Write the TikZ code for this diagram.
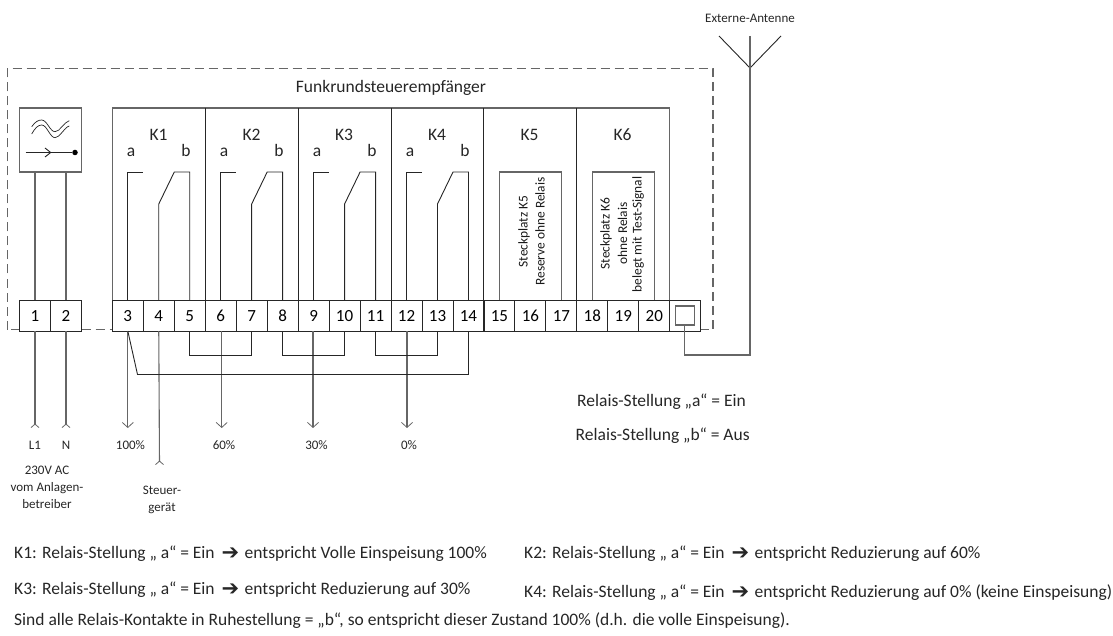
\documentclass[tikz,border=0pt]{standalone}
\usepackage{fontspec}
\setmainfont{Carlito}
\newfontfamily\symfont{DejaVu Sans}
\usetikzlibrary{arrows.meta}
\tikzset{
  line/.style={line width=1.1pt,draw=black!60,line join=miter},
  thin line/.style={line width=0.9pt,draw=black!85},
  cell/.style={draw=black!85,line width=0.9pt,minimum width=31pt,minimum height=31pt,inner sep=0pt,outer sep=0pt,text height=11pt,text depth=0pt,font=\fontsize{17}{17}\selectfont},
  lab/.style={inner sep=0pt,font=\fontsize{17.5}{20}\selectfont,text=black!85},
  small/.style={inner sep=0pt,align=center,font=\fontsize{13}{17}\selectfont,text=black!85},
  vtext/.style={inner sep=0pt,rotate=90,font=\fontsize{13.4}{15}\selectfont,text=black!90},
  foot/.style={inner sep=0pt,anchor=base west,font=\fontsize{17.5}{20}\selectfont,text=black!85},
  tipdown/.style={-{Straight Barb[length=5pt,width=11pt,line width=0.8pt]}},
  tipup/.style={-{Straight Barb[reversed,length=3.5pt,width=8pt,line width=0.8pt]}}
}
\newcommand{\bigarrow}{\hspace{3pt}{\symfont\fontsize{21}{15}\selectfont\raisebox{-1.5pt}{➔}}\hspace{1.5pt}}
\begin{document}
\begin{tikzpicture}[x=1pt,y=-1pt]
\useasboundingbox (0,0) rectangle (1113,636);
% dashed housing
\draw[line,dash pattern=on 9pt off 5pt] (7.5,329.5) -- (7.5,68.5) -- (713,68.5) -- (713,329.5) -- (700,329.5);
\draw[line,dash pattern=on 9pt off 5pt] (19.5,329.5) -- (7.5,329.5);
\draw[line,dash pattern=on 9pt off 5pt] (81.5,329.5) -- (112.3,329.5);
\node[lab] (title) at (391,88) {Funkrundsteuerempfänger};
% power supply
\node[draw=black!60,line width=1.1pt,minimum width=62pt,minimum height=64pt,inner sep=0pt,outer sep=0pt,anchor=north west] (psu) at (19.5,108) {};
\draw[thin line,line width=0.7pt] (31.7,126.7) .. controls (35,122) and (38,120) .. (41.7,120) .. controls (47,120) and (50,131.7) .. (55,131.7) .. controls (60,131.7) and (64,122) .. (69.3,120.7);
\draw[thin line,line width=0.7pt] (31.7,134) .. controls (35,128) and (38,125) .. (41.7,125) .. controls (47,125) and (50,137.7) .. (55,137.7) .. controls (60,137.7) and (64,127.5) .. (69.3,126);
\coordinate (ps1) at (25.5,152.5);
\node[circle,fill=black,minimum size=5.5pt,inner sep=0pt] (psdot) at (75,152.5) {};
\draw[thin line] (ps1) -- (psdot);
\draw[thin line] (45,148) -- (50.7,152.5) -- (45,157);
% terminals
\foreach \n/\x in {1/35,2/66} \node[cell] (t\n) at (\x,315.5) {\n};
\foreach \n in {3,...,20} {
  \pgfmathsetmacro{\xx}{127.8+(\n-3)*30.97}
  \node[cell] (t\n) at (\xx,315.5) {\n};
}
\node[cell] (t21) at (685,315.5) {};
\node[draw=black!60,line width=1.1pt,minimum size=19pt,inner sep=0pt,outer sep=0pt] (ant) at (684.8,315.5) {};
% slot frame
\draw[line] (112.3,300) -- (112.3,108) -- (669.5,108) -- (669.5,300);
\foreach \x in {205.3,298,391,483.7,576.7} \draw[thin line] (\x,108) -- (\x,300);
% slot labels
\foreach \k/\x in {1/158.5,2/251.5,3/344,4/437,5/529.5,6/622.5} \node[lab,anchor=base] (k\k) at (\x,140.5) {K\k};
\foreach \k/\d in {1/0,2/93,3/186,4/279} {
  \node[lab,anchor=base] (a\k) at (131+\d,156.5) {a};
  \node[lab,anchor=base] (b\k) at (186+\d,156.5) {b};
}
% relay contacts
\foreach \s/\p/\q/\r in {1/3/4/5,2/6/7/8,3/9/10/11,4/12/13/14} {
  \path (t\p.north) ++(0,-128) coordinate (up\s);
  \draw[thin line] (t\p.north) -- (up\s) -- ++(15,0);
  \draw[thin line] (t\q.north) -- ++(0,-96) -- ++(15.5,-32) -- ++(15.5,0) -- (t\r.north);
}
% empty slots
\draw[line] (t15.north) -- ++(0,-128) -- ++(62.5,0) -- ++(0,128);
\draw[line] (t18.north) -- ++(0,-128) -- ++(62.5,0) -- ++(0,128);
\node[vtext] (v51) at (524,231.5) {Steckplatz K5};
\node[vtext] (v52) at (540,231.5) {Reserve ohne Relais};
\node[vtext] (v61) at (606,233.5) {Steckplatz K6};
\node[vtext] (v62) at (622.5,233.5) {ohne Relais};
\node[vtext] (v63) at (638,234.5) {belegt mit Test-Signal};
% supply lines
\node[small] (l1) at (35,445.5) {L1};
\node[small] (ln) at (66,445.5) {N};
\node[small] (mains) at (47,487) {230V AC\\vom Anlagen-\\betreiber};
\node[small] (steuer) at (162,499.5) {Steuer-\\gerät};
\coordinate (l1e) at (35,428);
\coordinate (lne) at (66,428);
\coordinate (ste) at (159.5,465);
\draw[line] (psu.south -| t1) -- (t1.north);
\draw[line] (psu.south -| t2) -- (t2.north);
\draw[line,tipup] (t1.south) -- (l1e);
\draw[line,tipup] (t2.south) -- (lne);
\draw[line,tipup] (t4.south) -- (ste);
% outputs
\node[small] (p100) at (130.5,445.5) {100\%};
\node[small] (p60) at (224,445.5) {60\%};
\node[small] (p30) at (316.5,445.5) {30\%};
\node[small] (p0) at (409,445.5) {0\%};
\coordinate (o3) at (127.8,428);
\coordinate (o6) at (221.7,428);
\coordinate (o9) at (313,428);
\coordinate (o12) at (407,428);
\draw[line,tipdown] (o3 |- t3.south) -- (o3);
\draw[line,tipdown] (o6 |- t6.south) -- (o6);
\draw[line,tipdown] (o9 |- t9.south) -- (o9);
\draw[line,tipdown] (o12 |- t12.south) -- (o12);
% bridges
\draw[thin line] (t5.south) -- ++(0,24) -| (t7.south);
\draw[thin line] (t8.south) -- ++(0,24) -| (t10.south);
\draw[thin line] (t11.south) -- ++(0,24) -| (t13.south);
\draw[thin line] (t3.south) -- (137.5,374.5) -| (t14.south);
% antenna
\coordinate (amast) at (750,36);
\coordinate (afoot) at (750,68);
\coordinate (al) at (719,36);
\coordinate (ar) at (781,36);
\node[small] (antlab) at (750,18) {Externe-Antenne};
\draw[thin line] (al) -- (afoot) -- (ar);
\draw[line] (amast) -- (750,355) -- (684.8,355) -- (ant.south);
% texts
\node[foot] (r1) at (577,406) {Relais-Stellung „a“ = Ein};
\node[foot] (r2) at (575.5,440) {Relais-Stellung „b“ = Aus};
\node[foot] (f1) at (14,558) {K1: Relais-Stellung „ a“ = Ein\ \bigarrow\ entspricht Volle Einspeisung 100\%};
\node[foot] (f2) at (524,558) {K2: Relais-Stellung „ a“ = Ein\ \bigarrow\ entspricht Reduzierung auf 60\%};
\node[foot] (f3) at (14,594) {K3: Relais-Stellung „ a“ = Ein\ \bigarrow\ entspricht Reduzierung auf 30\%};
\node[foot] (f4) at (524,597) {K4: Relais-Stellung „ a“ = Ein\ \bigarrow\ entspricht Reduzierung auf 0\% (keine Einspeisung)};
\node[foot] (f5) at (14,625) {Sind alle Relais-Kontakte in Ruhestellung = „b“, so entspricht dieser Zustand 100\% (d.h. die volle Einspeisung).};
\end{tikzpicture}
\end{document}
